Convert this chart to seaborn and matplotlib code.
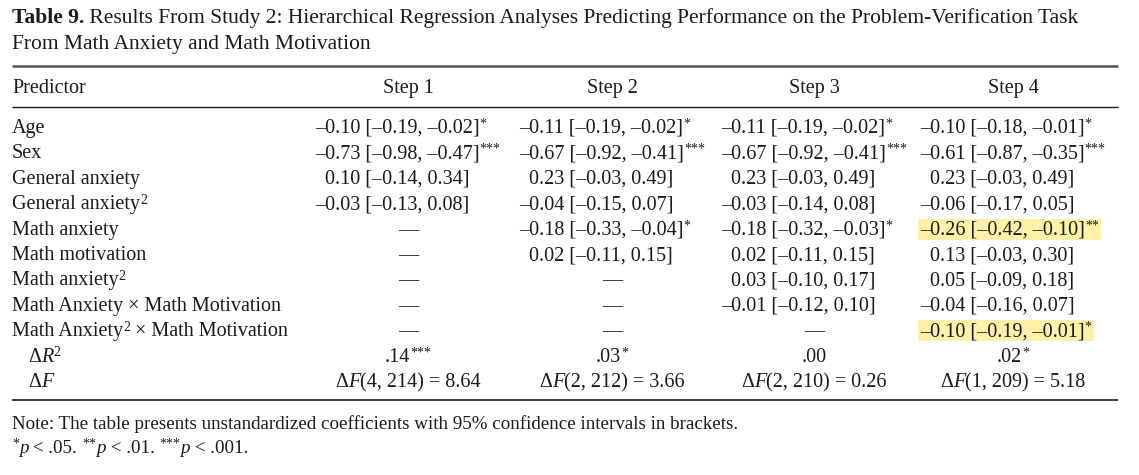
import matplotlib
matplotlib.use("Agg")
import matplotlib.pyplot as plt
import seaborn as sns
from matplotlib.patches import Rectangle

sns.set_theme(style="white")
plt.rcParams['font.family'] = ['Liberation Serif', 'DejaVu Serif']

# %%
# Table contents

title_bold = "Table 9."
title_line1 = " Results From Study 2: Hierarchical Regression Analyses Predicting Performance on the Problem-Verification Task"
title_line2 = "From Math Anxiety and Math Motivation"

steps = ["Step 1", "Step 2", "Step 3", "Step 4"]
predictors = ["Age", "Sex", "General anxiety", "General anxiety^2", "Math anxiety",
              "Math motivation", "Math anxiety^2", "Math Anxiety × Math Motivation",
              "Math Anxiety^2 × Math Motivation"]

# (coefficient, lower CI, upper CI, stars); None = not in the model
step1 = [(-0.10, -0.19, -0.02, "*"), (-0.73, -0.98, -0.47, "***"), (0.10, -0.14, 0.34, ""),
         (-0.03, -0.13, 0.08, ""), None, None, None, None, None]
step2 = [(-0.11, -0.19, -0.02, "*"), (-0.67, -0.92, -0.41, "***"), (0.23, -0.03, 0.49, ""),
         (-0.04, -0.15, 0.07, ""), (-0.18, -0.33, -0.04, "*"), (0.02, -0.11, 0.15, ""),
         None, None, None]
step3 = [(-0.11, -0.19, -0.02, "*"), (-0.67, -0.92, -0.41, "***"), (0.23, -0.03, 0.49, ""),
         (-0.03, -0.14, 0.08, ""), (-0.18, -0.32, -0.03, "*"), (0.02, -0.11, 0.15, ""),
         (0.03, -0.10, 0.17, ""), (-0.01, -0.12, 0.10, ""), None]
step4 = [(-0.10, -0.18, -0.01, "*"), (-0.61, -0.87, -0.35, "***"), (0.23, -0.03, 0.49, ""),
         (-0.06, -0.17, 0.05, ""), (-0.26, -0.42, -0.10, "**"), (0.13, -0.03, 0.30, ""),
         (0.05, -0.09, 0.18, ""), (-0.04, -0.16, 0.07, ""), (-0.10, -0.19, -0.01, "*")]
step_values = [step1, step2, step3, step4]

# highlighted cells (step index, row index)
highlighted = [(3, 4), (3, 8)]

delta_r2 = [".14", ".03", ".00", ".02"]
delta_r2_stars = ["***", "*", "", "*"]
delta_f_df1 = [4, 2, 2, 1]
delta_f_df2 = [214, 212, 210, 209]
delta_f = [8.64, 3.66, 0.26, 5.18]

note_text = "Note: The table presents unstandardized coefficients with 95% confidence intervals in brackets."

# %%
# Canvas in pixel coordinates

W, H = 1139, 475
fig = plt.figure(figsize=(W / 100, H / 100), dpi=100)
ax = fig.add_axes([0, 0, 1, 1])
ax.set_xlim(0, W)
ax.set_ylim(H, 0)
ax.axis('off')
renderer = fig.canvas.get_renderer()

FS = 14.5
INK = "#1a1a1a"
styles = {
    "rm": dict(fontsize=FS),
    "bf": dict(fontsize=15.5, fontweight="bold"),
    "title": dict(fontsize=15.5),
    "note": dict(fontsize=13.7),
    "noteit": dict(fontsize=13.7, fontstyle="italic"),
    "it": dict(fontsize=FS, fontstyle="italic"),
    "sup": dict(fontsize=10),
}


def text_width(s, style):
    # measure with bars around so spaces count
    t1 = ax.text(0, 0, "|" + s + "|", **styles[style])
    t2 = ax.text(0, 0, "||", **styles[style])
    w = t1.get_window_extent(renderer).width - t2.get_window_extent(renderer).width
    t1.remove()
    t2.remove()
    return w


def runs_width(runs):
    return sum(text_width(s, st) for s, st in runs)


def draw_runs(x, y, runs, ha="left"):
    total = runs_width(runs)
    if ha == "center":
        x = x - total / 2
    elif ha == "right":
        x = x - total
    start = x
    for s, st in runs:
        dy = -5.5 if st == "sup" else 0
        ax.text(x, y + dy, s, va="baseline", ha="left", color=INK, **styles[st])
        x += text_width(s, st)
    return start, x


def label_runs(label):
    parts = label.split("^2")
    runs = []
    for i, p in enumerate(parts):
        if p:
            runs.append((p, "rm"))
        if i < len(parts) - 1:
            runs.append(("2", "sup"))
    return runs


def num(v):
    return ("–" if v < 0 else "") + f"{abs(v):.2f}"


# %%
# Title

draw_runs(12, 23, [(title_bold, "bf"), (title_line1, "title")])
draw_runs(12, 49, [(title_line2, "title")])

# Rules
left, right = 12, 1118
ax.plot([left, right], [66, 66], color="#555555", lw=1.8, solid_capstyle="butt")
ax.plot([left, right], [107, 107], color=INK, lw=1.0, solid_capstyle="butt")
ax.plot([left, right], [400, 400], color=INK, lw=1.2, solid_capstyle="butt")

# Header
col_x = [408, 612, 814, 1013]
header_y = 93
draw_runs(12, header_y, [("Predictor", "rm")])
for cx, s in zip(col_x, steps):
    draw_runs(cx, header_y, [(s, "rm")], ha="center")

# %%
# Body rows

row_y0, row_dy = 133, 25.4
minus_w = text_width("–", "rm")

for r, lab in enumerate(predictors):
    draw_runs(12, row_y0 + r * row_dy, label_runs(lab))

for c, (cx, values) in enumerate(zip(col_x, step_values)):
    cells = [v for v in values if v is not None]
    widest = max(runs_width([("–" + f"{abs(b):.2f} [{num(lo)}, {num(hi)}]", "rm"), (st, "sup")])
                 for b, lo, hi, st in cells)
    x_left = cx - widest / 2
    for r, v in enumerate(values):
        y = row_y0 + r * row_dy
        if v is None:
            draw_runs(cx, y, [("—", "rm")], ha="center")
            continue
        b, lo, hi, st = v
        x0 = x_left + (0 if b < 0 else minus_w)
        runs = [(f"{num(b)} [{num(lo)}, {num(hi)}]", "rm")]
        if st:
            runs.append((st, "sup"))
        x_start, x_end = draw_runs(x0, y, runs)
        if (c, r) in highlighted:
            ax.add_patch(Rectangle((x_start - 2, y - 16), x_end - x_start + 4, 21,
                                   facecolor="#fff2a8", edgecolor="none", zorder=0))

# Delta R^2 and Delta F rows
y_r2 = row_y0 + len(predictors) * row_dy
y_f = y_r2 + row_dy
draw_runs(28, y_r2, [("Δ", "rm"), ("R", "it"), ("2", "sup")])
draw_runs(28, y_f, [("Δ", "rm"), ("F", "it")])
for cx, r2, st, d1, d2, f in zip(col_x, delta_r2, delta_r2_stars, delta_f_df1, delta_f_df2, delta_f):
    runs = [(r2, "rm")]
    if st:
        runs.append((st, "sup"))
    draw_runs(cx, y_r2, runs, ha="center")
    draw_runs(cx, y_f, [("Δ", "rm"), ("F", "it"), (f"({d1}, {d2}) = {f:.2f}", "rm")], ha="center")

# %%
# Notes

draw_runs(12, 429, [(note_text, "note")])
draw_runs(12, 453, [("*", "sup"), ("p", "noteit"), (" < .05. ", "note"), ("**", "sup"), ("p", "noteit"),
                    (" < .01. ", "note"), ("***", "sup"), ("p", "noteit"), (" < .001.", "note")])

fig.savefig("out.png", dpi=100, facecolor="white")
